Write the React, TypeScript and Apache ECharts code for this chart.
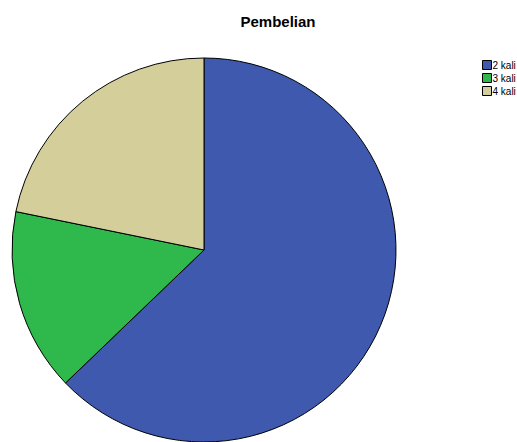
import React, { useEffect, useRef } from "react";
import * as echarts from "echarts";

const categories = ["2 kali", "3 kali", "4 kali"];
const values = [49, 12, 17];
const colors = ["#3E59AD", "#2FB84B", "#D4CE9B"];

export default function App() {
  const ref = useRef<HTMLDivElement>(null);
  useEffect(() => {
    if (!ref.current) return;
    const chart = echarts.init(ref.current, undefined, { renderer: "svg" });
    chart.setOption({
      animation: false,
      backgroundColor: "#ffffff",
      title: {
        text: "Pembelian",
        left: 273,
        textAlign: "center",
        top: 9,
        textStyle: { fontFamily: "Arial, Liberation Sans", fontSize: 15, fontWeight: "bold", color: "#000" },
      },
      legend: {
        orient: "vertical",
        left: 477,
        top: 55,
        itemWidth: 9,
        itemHeight: 9,
        itemGap: 3,
        icon: "rect",
        itemStyle: { borderColor: "#000", borderWidth: 1 },
        textStyle: { fontFamily: "Arial, Liberation Sans", fontSize: 10, color: "#000", padding: [0, 0, 0, -4] },
        data: categories,
      },
      series: [
        {
          type: "pie",
          center: [204, 250],
          radius: 192,
          startAngle: 90,
          clockwise: true,
          label: { show: false },
          labelLine: { show: false },
          emphasis: { disabled: true },
          itemStyle: { borderColor: "#000", borderWidth: 1 },
          data: categories.map((c, i) => ({ name: c, value: values[i], itemStyle: { color: colors[i] } })),
        },
      ],
    });
    return () => chart.dispose();
  }, []);
  return <div ref={ref} style={{ width: 517, height: 442, position: "absolute", left: 0, top: 0 }} />;
}
